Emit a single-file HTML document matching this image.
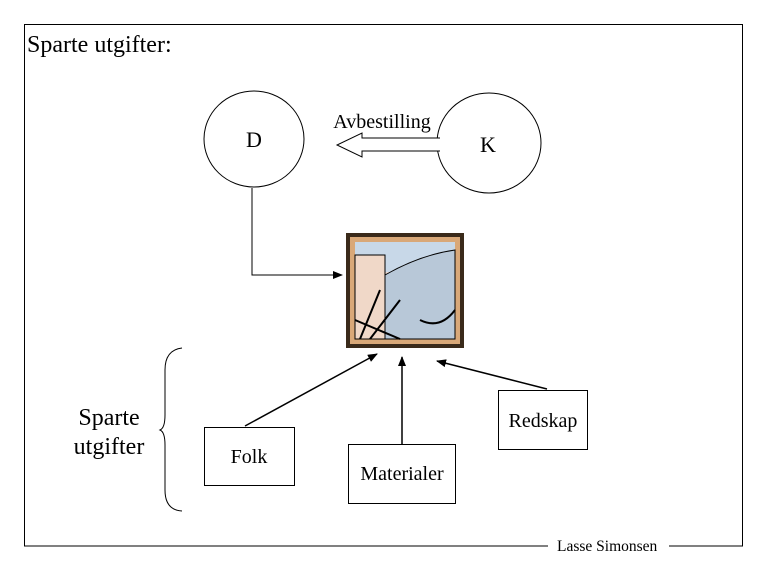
<!DOCTYPE html>
<html><head><style>
html,body{margin:0;padding:0;background:#fff;}
svg text{font-family:"Liberation Serif","Times New Roman","DejaVu Serif",serif;}
</style></head><body>
<svg width="765" height="570" viewBox="0 0 765 570" font-family="Liberation Serif, serif">
<defs>
<marker id="ah" markerWidth="10" markerHeight="8" refX="9" refY="4" orient="auto" markerUnits="userSpaceOnUse">
<path d="M0,0 L10,4 L0,8 Z" fill="#000"/>
</marker>
</defs>
<rect x="0" y="0" width="765" height="570" fill="#fff"/>
<path d="M548,546 L24.5,546 L24.5,24.5 L742.5,24.5 L742.5,546 L669,546" fill="none" stroke="#000" stroke-width="1"/>
<text x="557" y="551" font-size="15.5">Lasse Simonsen</text>
<text x="27" y="52" font-size="24">Sparte utgifter:</text>

<ellipse cx="254" cy="139" rx="50" ry="48" fill="#fff" stroke="#000"/>
<text x="254" y="147" font-size="22" text-anchor="middle">D</text>
<ellipse cx="489" cy="143" rx="52" ry="50" fill="#fff" stroke="#000"/>
<text x="488" y="152" font-size="22" text-anchor="middle">K</text>
<text x="382" y="128" font-size="20" text-anchor="middle">Avbestilling</text>
<path d="M440,138 L362,138 L362,133 L337,145 L362,157 L362,151 L440,151" fill="#fff" stroke="#000"/>

<path d="M252,188 L252,275 L342,275" fill="none" stroke="#000" marker-end="url(#ah)"/>

<g>
<rect x="348" y="235" width="114" height="111" fill="#d9a878" stroke="#3a2a1a" stroke-width="4"/>
<rect x="355" y="242" width="100" height="97" fill="#e8d8d0"/>
<rect x="355" y="242" width="100" height="30" fill="#c8d8e8"/>
<rect x="355" y="255" width="30" height="84" fill="#f0d8c8" stroke="#000"/>
<path d="M385,275 Q420,255 455,250 L455,339 L385,339 Z" fill="#b8c8d8" stroke="#000"/>
<path d="M360,339 L380,290 M370,339 L400,300 M355,320 L400,339 M420,320 Q440,330 455,310" stroke="#000" fill="none" stroke-width="2"/>
</g>

<rect x="204.5" y="427.5" width="90" height="58" fill="#fff" stroke="#000"/>
<text x="249" y="463" font-size="20" text-anchor="middle">Folk</text>
<rect x="348.5" y="444.5" width="107" height="59" fill="#fff" stroke="#000"/>
<text x="402" y="480" font-size="20" text-anchor="middle">Materialer</text>
<rect x="498.5" y="390.5" width="89" height="59" fill="#fff" stroke="#000"/>
<text x="543" y="427" font-size="20" text-anchor="middle">Redskap</text>

<line x1="245" y1="426" x2="377" y2="354" stroke="#000" stroke-width="1.5" marker-end="url(#ah)"/>
<line x1="402" y1="444" x2="402" y2="357" stroke="#000" stroke-width="1.5" marker-end="url(#ah)"/>
<line x1="547" y1="389" x2="437" y2="361" stroke="#000" stroke-width="1.5" marker-end="url(#ah)"/>

<path d="M182,348 Q165,350 165,370 L165,415 Q165,428 160,430 Q165,432 165,445 L165,490 Q165,510 182,511" fill="none" stroke="#000"/>
<text x="109" y="425" font-size="24" text-anchor="middle">Sparte</text>
<text x="109" y="454" font-size="24" text-anchor="middle">utgifter</text>
</svg>
</body></html>
